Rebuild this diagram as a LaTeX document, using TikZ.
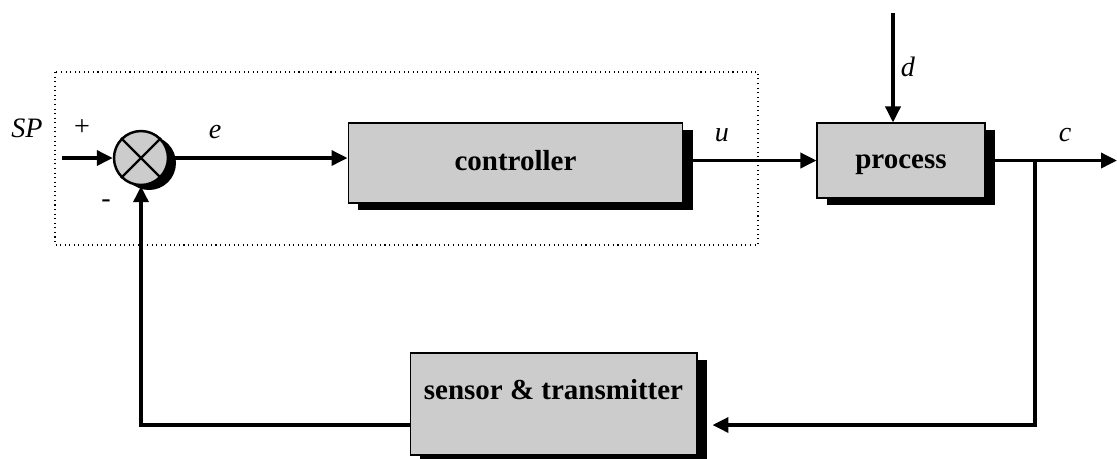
\documentclass[tikz,border=0pt]{standalone}
\usepackage{fontspec}
\setmainfont{Liberation Serif}
\usetikzlibrary{calc}
\usetikzlibrary{positioning}
\usetikzlibrary{arrows.meta}
\usetikzlibrary{shadows}
\tikzset{
block/.style 2 args={
	draw, line width=0.6pt, fill=black!20,
	minimum width=#1, minimum height=#2,
	text height=0.42cm, text depth=0.12cm,
	font=\fontsize{16.5}{19}\selectfont\bfseries,
	drop shadow={shadow xshift=0.2cm, shadow yshift=-0.14cm, opacity=1, fill=black}
},
sumjunction/.style={
	draw, circle, line width=1.4pt, fill=black!20,
	minimum size=1.08cm, inner sep=0pt,
	drop shadow={shadow xshift=0.16cm, shadow yshift=-0.1cm, opacity=1, fill=black}
},
signal/.style={font=\fontsize{16}{19}\selectfont\itshape},
sign/.style={font=\fontsize{16}{19}\selectfont},
flow/.style={line width=2pt, -{Triangle[length=0.32cm, width=0.3cm]}},
}

\begin{document}
\begin{tikzpicture}[x=0.02cm, y=-0.02cm]
\useasboundingbox (0,0) rectangle (1117,458);
%The controller frame
\draw[dotted, line width=0.6pt] (55,72) rectangle (758,245);

%Place the nodes
\node[sumjunction] (sum) at (141,158) {};
\draw[line width=1.4pt] (sum.north west) -- (sum.south east) (sum.north east) -- (sum.south west);
\node[block={6.7cm}{1.6cm}] (ctrl) at (515.5,163) {controller};
\node[block={3.36cm}{1.5cm}] (proc) at (901,160.5) {process};
\node[block={5.74cm}{2.04cm}, text depth=0.6cm] (sens) at (553.5,404) {sensor \& transmitter};

%Free ends
\coordinate (sp) at (62,158);
\coordinate (dist) at (893,13);
\coordinate (out) at (1117,160.5);
\coordinate (branch) at (1035,160.5);
\coordinate (fb) at (1035,425);

%Connect them
\draw[flow] (sp) -- (sum.west);
\draw[flow] (sum.east) -- (sum.east -| ctrl.west);
\draw[flow] (ctrl.east |- proc.west) -- (proc.west);
\draw[flow] (dist) -- (dist |- proc.north);
\draw[flow] (proc.east) -- (out);
\draw[flow, shorten >=0.3cm] (branch) -- (fb) -- (fb -| sens.east);
\draw[flow] (fb -| sens.west) -- (fb -| sum.south) -- (sum.south);

%Signal labels
\node[signal] (splabel) at (27,128) {SP};
\node[sign] (plus) at (82,128) {+};
\node[sign] (minus) at (106,204) {-};
\node[signal] (elabel) at (215,132) {e};
\node[signal] (ulabel) at (722,135) {u};
\node[signal] (dlabel) at (908,67) {d};
\node[signal] (clabel) at (1065,135) {c};

\end{tikzpicture}
\end{document}
